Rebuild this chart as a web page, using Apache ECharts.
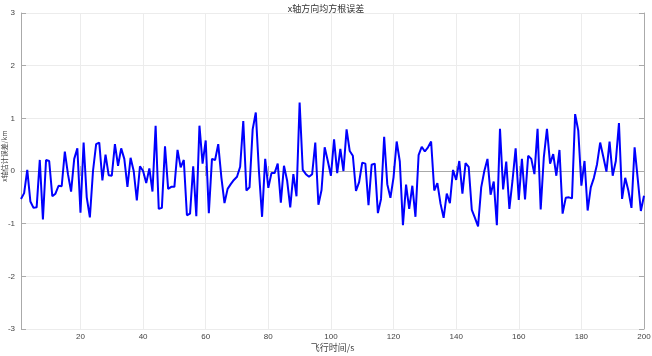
<!DOCTYPE html>
<html><head><meta charset="utf-8">
<script src="https://cdn.jsdelivr.net/npm/echarts@6/dist/echarts.min.js"></script>
<style>html,body{margin:0;padding:0;background:#fff}#c{width:652px;height:356px}</style>
</head><body><div id="c"></div>
<script>
const titleText = 'x轴方向均方根误差';
const xName = '飞行时间/s';
const yName = 'x轴估计误差/km';
const yTicks = [-3, -2, -1, 0, 1, 2, 3];
const xTicks = [20, 40, 60, 80, 100, 120, 140, 160, 180, 200];
const errValues = [
 -0.53,-0.42,0.02,-0.58,-0.70,-0.69,0.21,-0.92,0.21,0.19,
 -0.48,-0.43,-0.28,-0.29,0.37,-0.06,-0.39,0.23,0.43,-0.79,
 0.54,-0.50,-0.88,0.00,0.51,0.54,-0.18,0.31,-0.08,-0.09,
 0.51,0.10,0.43,0.23,-0.30,0.25,0.00,-0.56,0.09,0.00,
 -0.23,0.05,-0.39,0.86,-0.72,-0.70,0.47,-0.34,-0.30,-0.30,
 0.40,0.07,0.21,-0.84,-0.81,0.09,-0.86,0.86,0.14,0.58,
 -0.80,0.23,0.21,0.51,-0.12,-0.61,-0.34,-0.25,-0.17,-0.11,
 0.08,0.95,-0.37,-0.31,0.79,1.11,0.00,-0.87,0.23,-0.32,
 -0.04,-0.04,0.14,-0.60,0.10,-0.18,-0.69,-0.06,-0.48,1.30,
 0.02,-0.06,-0.11,-0.06,0.54,-0.64,-0.36,0.45,0.19,-0.09,
 0.60,-0.04,0.42,0.00,0.79,0.38,0.29,-0.38,-0.21,0.16,
 0.14,-0.65,0.12,0.14,-0.80,-0.53,0.65,-0.25,-0.51,-0.12,
 0.56,0.18,-1.03,-0.26,-0.72,-0.28,-0.87,0.30,0.46,0.37,
 0.45,0.56,-0.37,-0.23,-0.62,-0.89,-0.43,-0.61,0.02,-0.17,
 0.19,-0.43,0.15,0.08,-0.74,-0.89,-1.05,-0.31,0.00,0.23,
 -0.45,-0.20,-1.03,0.80,-0.35,0.18,-0.72,-0.18,0.43,-0.55,
 0.23,-0.54,0.29,0.23,-0.06,0.80,-0.73,0.26,0.80,0.14,
 0.32,-0.09,0.40,-0.81,-0.51,-0.50,-0.52,1.08,0.77,-0.28,
 0.19,-0.75,-0.31,-0.13,0.13,0.54,0.27,-0.01,0.56,-0.09,
 0.19,0.91,-0.53,-0.13,-0.37,-0.70,0.45,-0.15,-0.76,-0.47
];
const timeValues = errValues.map((_, i) => i + 1);
const seriesData = timeValues.map((t, i) => [t, errValues[i]]);

const axisCol = '#aaaaaa';
const gridCol = '#ececec';
const lblCol = '#444';
const fontFam = 'Liberation Sans, Arial, sans-serif';
const cjk = '"Noto Sans CJK SC", sans-serif';

const chart = echarts.init(document.getElementById('c'), null, {renderer: 'canvas'});
chart.setOption({
  animation: false,
  backgroundColor: '#fff',
  title: {text: titleText, left: 'center', top: -1, textStyle: {fontFamily: cjk, fontSize: 9, fontWeight: 'normal', color: '#333'}},
  grid: {left: 21, right: 8, top: 13, bottom: 27, containLabel: false, outerBoundsMode: 'none'},
  xAxis: [{
    type: 'value', min: 1, max: 200,
    name: xName, nameLocation: 'middle', nameGap: 14, nameMoveOverlap: false,
    nameTextStyle: {fontFamily: cjk, fontSize: 9, color: lblCol},
    axisLine: {show: true, lineStyle: {color: axisCol, width: 1}},
    axisTick: {show: true, inside: true, length: 5, customValues: xTicks, lineStyle: {color: axisCol}},
    axisLabel: {customValues: xTicks, fontFamily: fontFam, fontSize: 8, color: lblCol, margin: 4},
    splitLine: {show: true, lineStyle: {color: gridCol, width: 1}}
  }, {
    type: 'value', min: 1, max: 200, position: 'top',
    axisLine: {show: true, lineStyle: {color: axisCol, width: 1}},
    axisTick: {show: true, inside: true, length: 5, customValues: xTicks, lineStyle: {color: axisCol}},
    axisLabel: {show: false}, splitLine: {show: false}
  }],
  yAxis: [{
    type: 'value', min: yTicks[0], max: yTicks[yTicks.length - 1], interval: 1,
    name: yName, nameLocation: 'middle', nameGap: 13, nameRotate: 90, nameMoveOverlap: false,
    nameTextStyle: {fontFamily: cjk, fontSize: 7, color: lblCol, padding: [0, 0, 0, 30]},
    axisLine: {show: true, lineStyle: {color: axisCol, width: 1}},
    axisTick: {show: true, inside: true, length: 5, lineStyle: {color: axisCol}},
    axisLabel: {fontFamily: fontFam, fontSize: 8, color: lblCol, margin: 6},
    splitLine: {show: true, lineStyle: {color: gridCol, width: 1}}
  }, {
    type: 'value', min: yTicks[0], max: yTicks[yTicks.length - 1], interval: 1, position: 'right',
    axisLine: {show: true, lineStyle: {color: axisCol, width: 1}},
    axisTick: {show: true, inside: true, length: 5, lineStyle: {color: axisCol}},
    axisLabel: {show: false}, splitLine: {show: false}
  }],
  series: [{
    type: 'line', data: seriesData, xAxisIndex: 0, yAxisIndex: 0,
    showSymbol: false, symbol: 'none',
    lineStyle: {color: '#0000ff', width: 2}, itemStyle: {color: '#0000ff'}
  }]
});
</script></body></html>
